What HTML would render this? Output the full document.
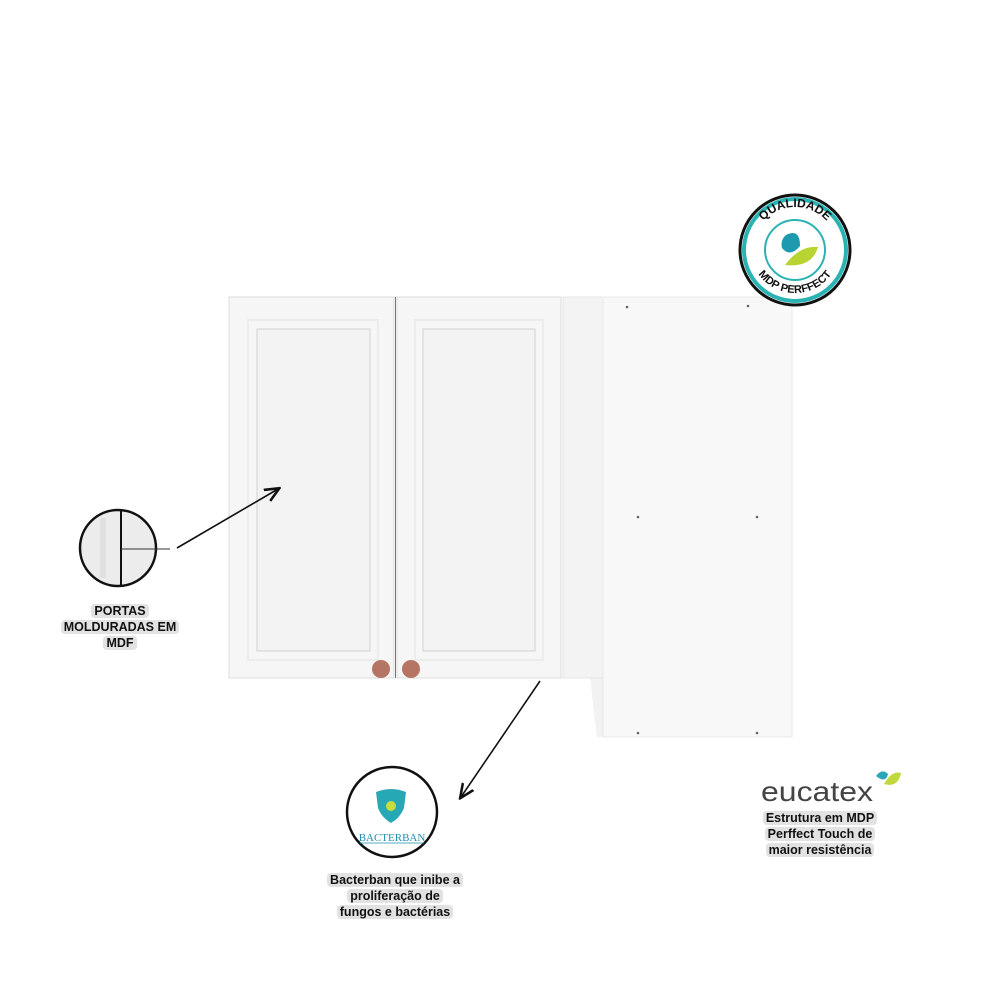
<!DOCTYPE html>
<html><head><meta charset="utf-8"><style>
body{margin:0;background:#fff;}
.lbl{position:absolute;font-family:"Liberation Sans",sans-serif;font-weight:bold;font-size:12.5px;line-height:16px;text-align:center;color:#111;}
.lbl span{background:#e2e2e2;border-radius:4px;padding:0 3px;}
</style></head><body>
<div style="position:relative;width:1000px;height:1000px;overflow:hidden">
<svg width="1000" height="1000" style="position:absolute;left:0;top:0">
<defs><marker id="ah" markerWidth="10" markerHeight="10" refX="8" refY="5" orient="auto"><path d="M0,1 L9,5 L0,9" fill="none" stroke="#111" stroke-width="1.6"/></marker></defs>
<polygon points="590,678 603,678 603,737 597,737" fill="#f2f2f2"/>
<rect x="563" y="297" width="40" height="381" fill="#f3f3f3" stroke="#e4e4e4"/>
<rect x="603" y="297" width="189" height="440" fill="#f8f8f8" stroke="#e8e8e8"/>
<g fill="#666"><circle cx="627" cy="307" r="1.3"/><circle cx="748" cy="306" r="1.3"/><circle cx="638" cy="517" r="1.3"/><circle cx="757" cy="517" r="1.3"/><circle cx="638" cy="733" r="1.3"/><circle cx="757" cy="733" r="1.3"/></g>
<rect x="229" y="297" width="165" height="381" fill="#f6f6f6" stroke="#dcdcdc"/>
<rect x="397" y="297" width="164" height="381" fill="#f6f6f6" stroke="#dcdcdc"/>
<rect x="248" y="320" width="130" height="340" fill="none" stroke="#ececec" stroke-width="2"/>
<rect x="415" y="320" width="128" height="340" fill="none" stroke="#ececec" stroke-width="2"/>
<rect x="257" y="329" width="113" height="322" fill="#f3f3f3" stroke="#d2d2d2"/>
<rect x="423" y="329" width="112" height="322" fill="#f3f3f3" stroke="#d2d2d2"/>
<line x1="395.5" y1="297" x2="395.5" y2="678" stroke="#777" stroke-width="1"/>
<circle cx="381" cy="669" r="9" fill="#b67462"/><circle cx="411" cy="669" r="9" fill="#b67462"/>
<line x1="177" y1="548" x2="278" y2="489" stroke="#111" stroke-width="1.6" marker-end="url(#ah)"/>
<line x1="540" y1="681" x2="461" y2="797" stroke="#111" stroke-width="1.6" marker-end="url(#ah)"/>
<circle cx="118" cy="548" r="38" fill="#ececec" stroke="#111" stroke-width="2.5"/>
<line x1="121" y1="511" x2="121" y2="586" stroke="#111" stroke-width="2"/>
<line x1="121" y1="549" x2="170" y2="549" stroke="#333" stroke-width="1"/>
<rect x="100" y="518" width="6" height="60" fill="#e0e0e0"/>
<circle cx="392" cy="812" r="45" fill="#fff" stroke="#111" stroke-width="2.5"/>
<path d="M376,792 Q391,786 406,792 L404,808 Q400,818 391,823 Q382,818 378,808 Z" fill="#27a8b5"/>
<circle cx="391" cy="806" r="5" fill="#c8dc3a"/>
<text x="392" y="841" font-family="Liberation Serif,serif" font-size="11" fill="#1e8fae" text-anchor="middle">BACTERBAN</text>
<line x1="360" y1="843" x2="424" y2="843" stroke="#1e8fae" stroke-width="0.8"/>
<circle cx="795" cy="250" r="55" fill="#fff" stroke="#111" stroke-width="3"/>
<circle cx="795" cy="250" r="51" fill="none" stroke="#2bb3b3" stroke-width="4"/>
<circle cx="795" cy="250" r="30" fill="none" stroke="#2bb3b3" stroke-width="2"/>
<path id="arcT" d="M752,250 A43,43 0 0 1 838,250" fill="none"/>
<path id="arcB" d="M750,248 A45,45 0 0 0 840,248" fill="none"/>
<text font-family="Liberation Sans,sans-serif" font-weight="bold" font-size="12" fill="#111"><textPath href="#arcT" startOffset="50%" text-anchor="middle">QUALIDADE</textPath></text>
<text font-family="Liberation Sans,sans-serif" font-weight="bold" font-size="11" fill="#111"><textPath href="#arcB" startOffset="50%" text-anchor="middle">MDP PERFFECT</textPath></text>
<path d="M786,235 Q800,228 800,246 Q790,258 782,248 Q780,240 786,235Z" fill="#1e9ab0"/>
<path d="M785,265 Q800,245 818,247 Q812,268 785,265Z" fill="#b8d433"/>
<text x="761" y="801" font-family="Liberation Sans,sans-serif" font-size="28" fill="#444" textLength="112" lengthAdjust="spacingAndGlyphs">eucatex</text>
<path d="M876,776 Q882,768 888,774 Q886,784 876,776Z" fill="#2aa6b8"/>
<path d="M884,784 Q892,770 901,773 Q898,788 884,784Z" fill="#c1d83c"/>
</svg>
<div class="lbl" style="left:40px;top:603px;width:160px"><span>PORTAS</span><br><span>MOLDURADAS EM</span><br><span>MDF</span></div>
<div class="lbl" style="left:300px;top:872px;width:190px"><span>Bacterban que inibe a</span><br><span>proliferação de</span><br><span>fungos e bactérias</span></div>
<div class="lbl" style="left:740px;top:810px;width:160px"><span>Estrutura em MDP</span><br><span>Perffect Touch de</span><br><span>maior resistência</span></div>
</div>
</body></html>
